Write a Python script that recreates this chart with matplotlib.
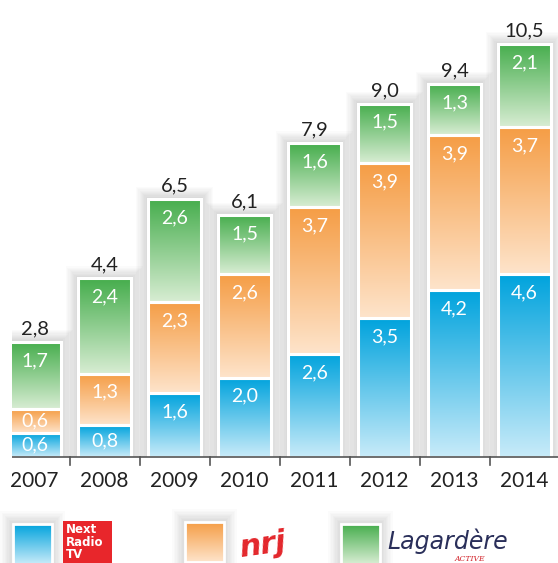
import numpy as np
import matplotlib
matplotlib.use("Agg")
import matplotlib.pyplot as plt
from matplotlib.patches import Rectangle
from matplotlib.colors import LinearSegmentedColormap

plt.rcParams['font.family'] = ['Lato', 'DejaVu Sans']

years = ['2007', '2008', '2009', '2010', '2011', '2012', '2013', '2014']
nextradio = [0.6, 0.8, 1.6, 2.0, 2.6, 3.5, 4.2, 4.6]
nrj = [0.6, 1.3, 2.3, 2.6, 3.7, 3.9, 3.9, 3.7]
lagardere = [1.7, 2.4, 2.6, 1.5, 1.6, 1.5, 1.3, 2.1]
totals = [2.8, 4.4, 6.5, 6.1, 7.9, 9.0, 9.4, 10.5]
series = [nextradio, nrj, lagardere]

grads = [('#00a3dd', '#c8ebf9'), ('#f59d45', '#fee4cb'), ('#45ad4c', '#d8edd3')]

W, H = 558, 563
fig = plt.figure(figsize=(W / 100, H / 100), dpi=100)
base_px = 457
ax = fig.add_axes([0, (H - base_px) / H, 1, base_px / H])
ppu_x = 70.0
x0_px = 34.5
ppu_y = 39.7
ax.set_xlim(-x0_px / ppu_x, (W - x0_px) / ppu_x)
ax.set_ylim(0, base_px / ppu_y)
ax.axis('off')

bw = 53 / ppu_x
xs = np.arange(len(years))

def fmt(v):
    return f"{v:.1f}".replace('.', ',')

grad_img = np.linspace(1, 0, 256).reshape(-1, 1)

def shadow(a, x, y, w, h, sx, sy, n=10, alpha=0.016):
    for k in range(1, n + 1):
        r = Rectangle((x - k * sx, y - k * sy), w + 2 * k * sx, h + 2 * k * sy,
                      facecolor='black', edgecolor='none', alpha=alpha, zorder=1)
        a.add_patch(r)

for i, x in enumerate(xs):
    top_total = sum(s[i] for s in series)
    shadow(ax, x - bw / 2, 0, bw, top_total, 1.2 / ppu_x, 1.2 / ppu_y)
    bottom = 0
    for s, (c1, c2) in zip(series, grads):
        v = s[i]
        cmap = LinearSegmentedColormap.from_list('g', [c2, c1])
        ax.imshow(grad_img, cmap=cmap, aspect='auto', vmin=0, vmax=1,
                  extent=(x - bw / 2, x + bw / 2, bottom, bottom + v), zorder=2,
                  interpolation='bilinear')
        ax.add_patch(Rectangle((x - bw / 2, bottom), bw, v, facecolor='none',
                               edgecolor='white', linewidth=2.2, zorder=3))
        if v < 0.9:
            ty = bottom + v / 2
        else:
            ty = bottom + v - 0.47
        ax.text(x, ty, fmt(v), color='white', ha='center', va='center',
                fontsize=14, zorder=4)
        bottom += v
    ax.text(x, bottom + 0.12, fmt(totals[i]), color='#222222', ha='center',
            va='bottom', fontsize=14.5, zorder=4)

# axis line and ticks
ax.plot([ax.get_xlim()[0], ax.get_xlim()[1]], [0, 0], color='#555555', lw=1.2,
        zorder=5, clip_on=False)
for i in range(len(years)):
    ax.plot([i + 0.5, i + 0.5], [0, -8 / ppu_y], color='#555555', lw=1.2,
            clip_on=False, zorder=5)
    ax.text(i, -24 / ppu_y, years[i], ha='center', va='center', fontsize=15,
            color='#222222', clip_on=False, zorder=4)

# legend area in pixel coords
lax = fig.add_axes([0, 0, 1, 73 / H])
lax.set_xlim(0, W)
lax.set_ylim(563, 490)
lax.axis('off')

sq = [(13, 524, grads[0]), (185, 522, grads[1]), (341, 524, grads[2])]
for (lx, ly, (c1, c2)) in sq:
    for k in range(1, 10):
        lax.add_patch(Rectangle((lx - 1.4 * k, ly - 1.4 * k), 39 + 2.8 * k, 40 + 2.8 * k,
                                facecolor='black', edgecolor='none', alpha=0.016))
    cmap = LinearSegmentedColormap.from_list('g', [c2, c1])
    lax.imshow(grad_img, cmap=cmap, aspect='auto', vmin=0, vmax=1,
               extent=(lx, lx + 39, ly + 40, ly), interpolation='bilinear', zorder=2)
    lax.add_patch(Rectangle((lx, ly), 39, 40, facecolor='none', edgecolor='white',
                            lw=2, zorder=3))

# NextRadioTV logo
lax.add_patch(Rectangle((63, 521), 49, 45, facecolor='#e8262b', edgecolor='none',
                        zorder=2))
lax.text(66, 523, 'Next\nRadio\nTV', color='white', fontsize=8.5,
         fontweight='bold', ha='left', va='top', linespacing=0.95, zorder=3,
         family=['DejaVu Sans'])
# NRJ logo
lax.text(262, 545, 'nrj', color='#e3262b', fontsize=22, fontweight='bold',
         fontstyle='italic', ha='center', va='center', zorder=3,
         family=['DejaVu Sans'], rotation=8)
# Lagardere logo
lax.text(448, 541, 'Lagardère', color='#2a2f5a', fontsize=17, fontstyle='italic',
         ha='center', va='center', zorder=3, family=['DejaVu Sans'])
lax.text(470, 559, 'ACTIVE', color='#d2232a', fontsize=5.5, fontstyle='italic',
         ha='center', va='center', zorder=3, family=['DejaVu Serif'])

# white strip on the far left (the source image is cropped there)
fig.add_artist(Rectangle((0, 80 / H), 12 / W, 1, transform=fig.transFigure,
                         facecolor='white', edgecolor='none', zorder=20))

fig.savefig('out.png', dpi=100)
